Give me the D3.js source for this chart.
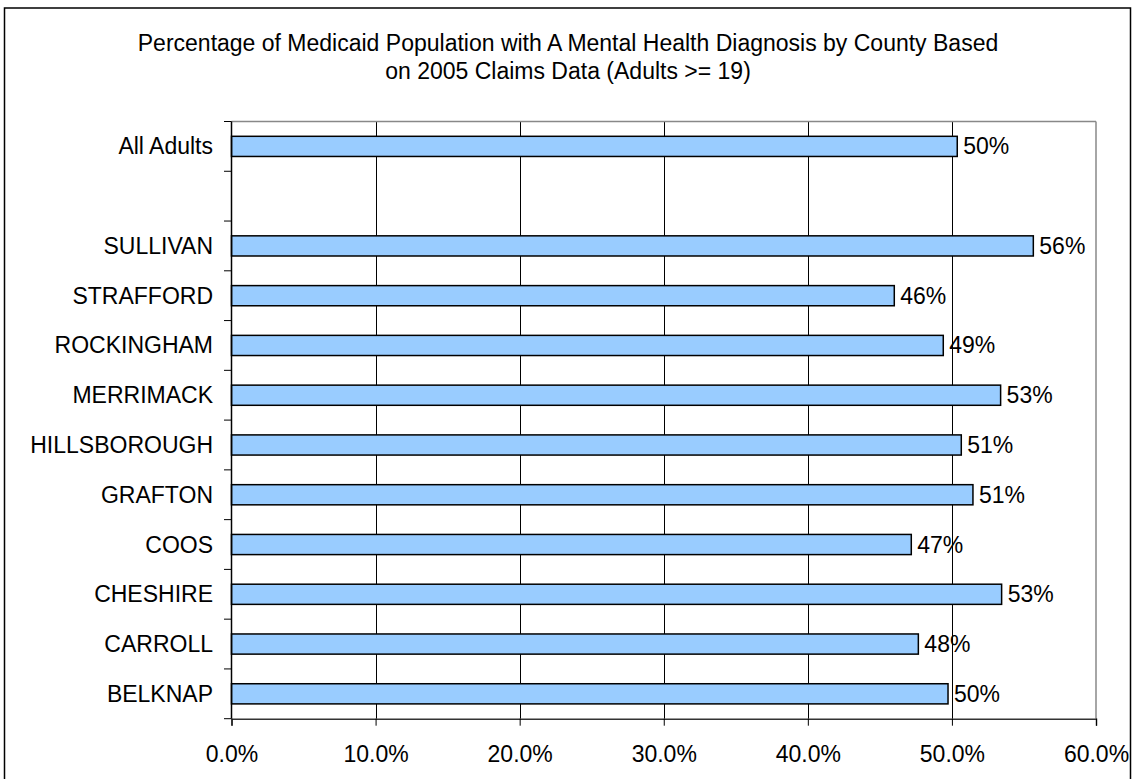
<!DOCTYPE html>
<html><head><meta charset="utf-8">
<script src="https://cdn.jsdelivr.net/npm/d3@7"></script>
<style>body{margin:0;background:#fff;} svg{display:block;font-family:"Liberation Sans",Arial,sans-serif;}</style>
</head><body>
<svg id="c" width="1136" height="779"></svg>
<script>
const categories = ["All Adults", "", "SULLIVAN", "STRAFFORD", "ROCKINGHAM", "MERRIMACK", "HILLSBOROUGH", "GRAFTON", "COOS", "CHESHIRE", "CARROLL", "BELKNAP"];
const values = [0.5037, null, 0.5565, 0.4600, 0.4940, 0.5338, 0.5065, 0.5146, 0.4718, 0.5345, 0.4767, 0.4973];
const valueLabels = ["50%", "", "56%", "46%", "49%", "53%", "51%", "51%", "47%", "53%", "48%", "50%"];
const xTicks = [0, 0.1, 0.2, 0.3, 0.4, 0.5, 0.6];
const titleLines = ["Percentage of Medicaid Population with A Mental Health Diagnosis by County Based", "on 2005 Claims Data (Adults >= 19)"];

const FS = 23;
const svg = d3.select("#c");
const L = 231.5, R = 1096, T = 121.5, B = 718.7;

svg.append("rect").attr("x",4.5).attr("y",8).attr("width",1126).attr("height",800)
  .attr("fill","#fff").attr("stroke","#000").attr("stroke-width",1.5);

const x = d3.scaleLinear().domain([0,0.6]).range([L,R]);
const y = d3.scaleBand().domain(categories.map((c,i)=>i)).range([T,B]).paddingInner(0.595).paddingOuter(0.2975);

// title
svg.append("g").selectAll("text").data(titleLines).join("text")
  .attr("x",568).attr("y",(d,i)=>51+i*28).attr("text-anchor","middle")
  .attr("font-size",FS).attr("fill","#000").text(d=>d);

// gridlines
svg.append("g").selectAll("line").data(xTicks.slice(1,-1)).join("line")
  .attr("x1",d=>Math.round(x(d))+0.5).attr("x2",d=>Math.round(x(d))+0.5)
  .attr("y1",T).attr("y2",B).attr("stroke","#000").attr("stroke-width",1);

// plot border top/right
svg.append("line").attr("x1",L).attr("x2",R).attr("y1",T).attr("y2",T).attr("stroke","#888").attr("stroke-width",1.5);
svg.append("line").attr("x1",R).attr("x2",R).attr("y1",T).attr("y2",B).attr("stroke","#888").attr("stroke-width",1.5);

// bars
const idx = categories.map((c,i)=>i).filter(i=>values[i]!==null);
svg.append("g").selectAll("rect").data(idx).join("rect")
  .attr("x",x(0)).attr("y",i=>y(i)).attr("width",i=>x(values[i])-x(0)).attr("height",y.bandwidth())
  .attr("fill","#99CCFF").attr("stroke","#000").attr("stroke-width",1.5);

// value labels
svg.append("g").selectAll("text").data(idx).join("text")
  .attr("x",i=>x(values[i])+6).attr("y",i=>y(i)+y.bandwidth()/2+8)
  .attr("font-size",FS).attr("fill","#000").text(i=>valueLabels[i]);

// y axis
const step = (B-T)/categories.length;
const yTickPos = d3.range(categories.length+1).map(k=>T+k*step);
svg.append("g").selectAll("line").data(yTickPos).join("line")
  .attr("x1",224).attr("x2",L).attr("y1",d=>d).attr("y2",d=>d).attr("stroke","#000").attr("stroke-width",1);
svg.append("line").attr("x1",L).attr("x2",L).attr("y1",T).attr("y2",B).attr("stroke","#000").attr("stroke-width",1.5);
svg.append("g").selectAll("text").data(categories.map((c,i)=>i)).join("text")
  .attr("x",213).attr("y",i=>y(i)+y.bandwidth()/2+8).attr("text-anchor","end")
  .attr("font-size",FS).attr("fill","#000").text(i=>categories[i]);

// x axis
const xa = d3.axisBottom(x).tickValues(xTicks).tickSize(7).tickFormat(d3.format(".1%"));
const gx = svg.append("g").attr("transform",`translate(0,${B})`).call(xa);
gx.select(".domain").attr("stroke","#333").attr("stroke-width",1.5);
gx.selectAll(".tick line").attr("stroke","#000");
gx.selectAll(".tick text").attr("font-size",FS).attr("font-family","Liberation Sans, Arial, sans-serif").attr("fill","#000").attr("dy",0).attr("y",43);
</script>
</body></html>
